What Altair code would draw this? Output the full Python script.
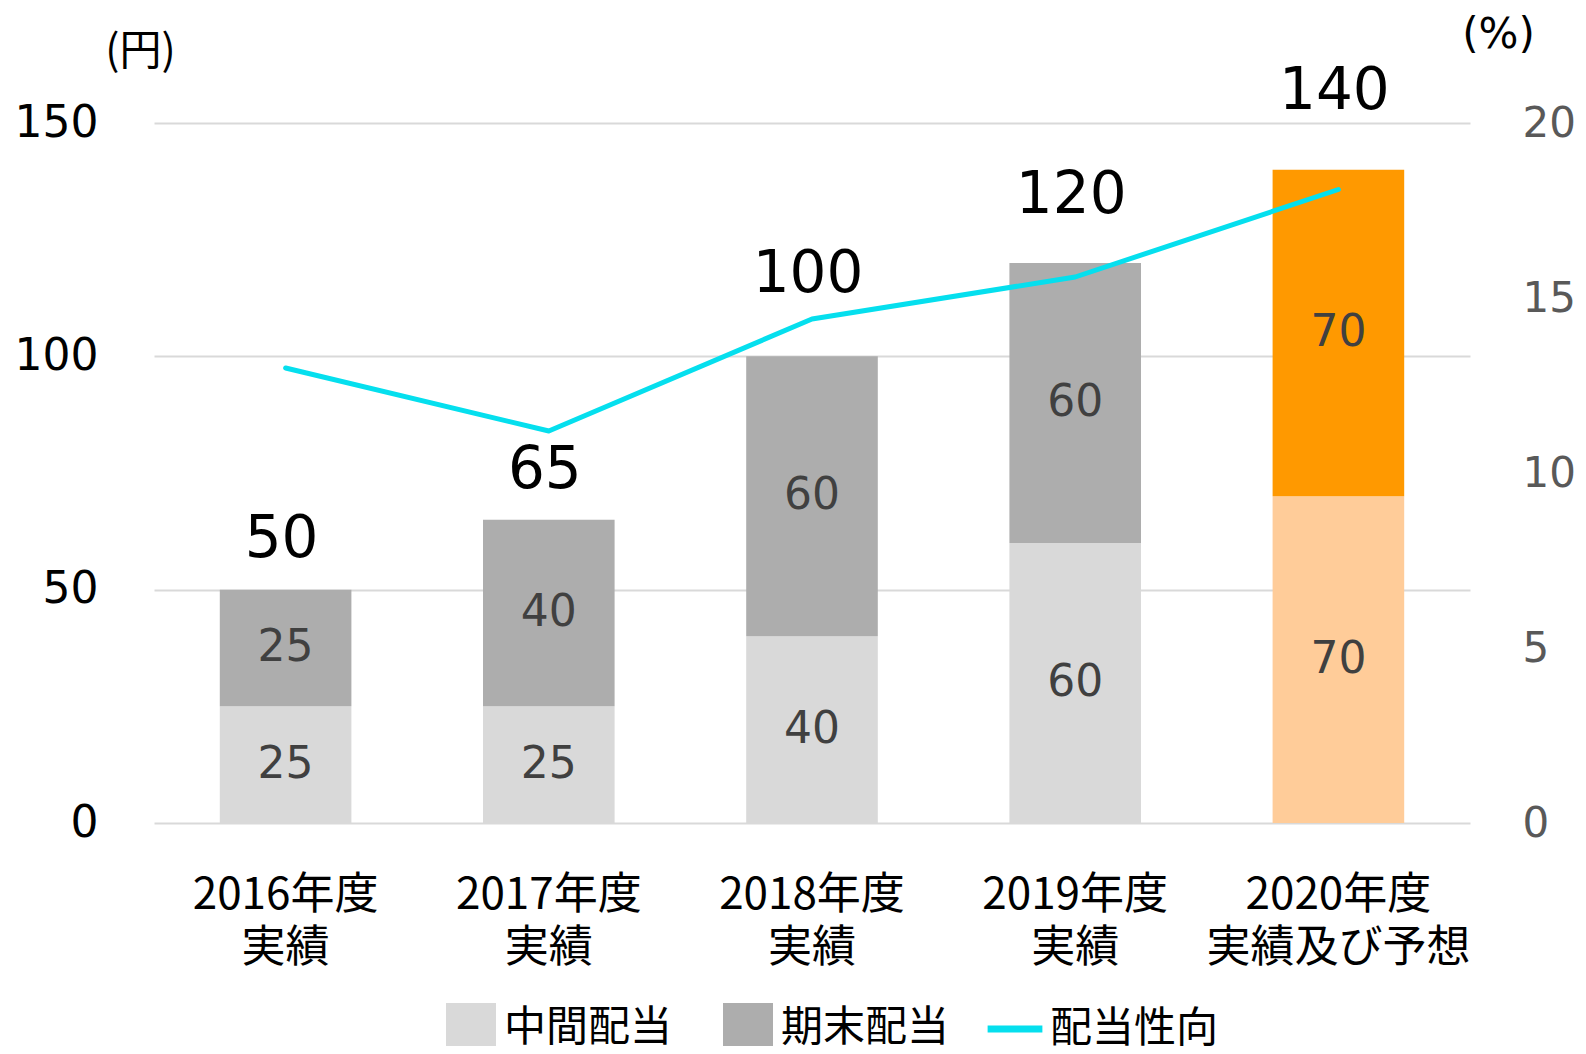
import altair as alt
import pandas as pd

categories = ["2016年度|実績", "2017年度|実績", "2018年度|実績", "2019年度|実績", "2020年度|実績及び予想"]
interim = [25, 25, 40, 60, 70]        # 中間配当
year_end = [25, 40, 60, 60, 70]       # 期末配当
payout = [13.0, 11.2, 14.4, 15.6, 18.1]  # 配当性向 (%)
forecast = [False, False, False, False, True]

seg_names = ["中間配当", "期末配当"]
color_keys = ["中間配当", "期末配当", "中間配当 ", "期末配当 "]
color_range = ["#D9D9D9", "#ADADAD", "#FFCC99", "#FF9900"]

rows = []
for c, a, b, f in zip(categories, interim, year_end, forecast):
    rows.append(dict(cat=c, key=seg_names[0] + (" " if f else ""), lo=0, hi=a, val=a))
    rows.append(dict(cat=c, key=seg_names[1] + (" " if f else ""), lo=a, hi=a + b, val=b))
seg = pd.DataFrame(rows)
seg["mid"] = (seg["lo"] + seg["hi"]) / 2

tot = pd.DataFrame(dict(cat=categories, total=[a + b for a, b in zip(interim, year_end)]))
line_df = pd.DataFrame(dict(cat=categories, payout=payout, series="配当性向"))

NUM = "DejaVu Sans"
CJK = "Noto Sans CJK JP"

x = alt.X("cat:N", sort=categories,
          scale=alt.Scale(paddingInner=0.5, paddingOuter=0.25),
          axis=alt.Axis(title=None, labelAngle=0, domain=False, ticks=False,
                        labelExpr="split(datum.value, '|')", labelFont=CJK,
                        labelFontSize=44, labelLineHeight=53, labelPadding=50,
                        labelColor="#000000", labelBaseline="top", labelLimit=0,
                        labelOverlap=False))

yL = alt.Scale(domain=[0, 150], nice=False)

bars = alt.Chart(seg).mark_bar().encode(
    x=x,
    y=alt.Y("lo:Q", scale=yL,
            axis=alt.Axis(values=[0, 50, 100, 150], title="(円)", titleAngle=0,
                          titleX=-14, titleY=-72, titleAlign="center", titleBaseline="middle",
                          titleFont=CJK, titleFontSize=42, titleFontWeight="normal",
                          titleColor="#000000",
                          labelFont=NUM, labelFontSize=44, labelColor="#000000",
                          labelPadding=56, ticks=False, domain=False,
                          grid=True, gridColor="#D9D9D9", gridWidth=2)),
    y2="hi:Q",
    color=alt.Color("key:N", scale=alt.Scale(domain=color_keys, range=color_range),
                    legend=alt.Legend(values=seg_names, title=None, orient="none",
                                      legendX=292, legendY=880, direction="horizontal",
                                      symbolType="square", symbolSize=2500,
                                      symbolStrokeWidth=0, labelFont=CJK,
                                      labelFontSize=42, labelOffset=8, labelLimit=0,
                                      columnPadding=50, labelColor="#000000")),
)

seg_text = alt.Chart(seg).mark_text(font=NUM, fontSize=44, color="#404040",
                                    baseline="middle").encode(
    x=alt.X("cat:N", sort=categories),
    y=alt.Y("mid:Q", scale=yL),
    text="val:Q",
)

label_gaps = [33, 32, 64, 50, 61]
tot_layers = []
for c, g in zip(categories, label_gaps):
    tot_layers.append(
        alt.Chart(tot).transform_filter(alt.datum.cat == c)
        .mark_text(font=NUM, fontSize=58, color="#000000", baseline="alphabetic", dy=-g, dx=-4)
        .encode(x=alt.X("cat:N", sort=categories), y=alt.Y("total:Q", scale=yL), text="total:Q")
    )

left = alt.layer(bars, seg_text, *tot_layers)

line = alt.Chart(line_df).mark_line(strokeWidth=5, strokeCap="round", strokeJoin="round").encode(
    x=alt.X("cat:N", sort=categories),
    y=alt.Y("payout:Q", scale=alt.Scale(domain=[0, 20], nice=False),
            axis=alt.Axis(orient="right", values=[0, 5, 10, 15, 20], title="(%)",
                          titleAngle=0, titleX=28, titleY=-89, titleAlign="center",
                          titleBaseline="middle", titleFont=NUM, titleFontSize=42,
                          titleFontWeight="normal", titleColor="#000000",
                          labelFont=NUM, labelFontSize=42, labelColor="#595959",
                          labelPadding=52, ticks=False, domain=False, grid=False)),
    stroke=alt.Stroke("series:N", scale=alt.Scale(range=["#05DFEE"]),
                      legend=alt.Legend(title=None, orient="none", legendX=830, legendY=875,
                                        direction="horizontal", symbolType="stroke",
                                        symbolSize=3000, symbolStrokeWidth=7,
                                        labelFont=CJK, labelFontSize=42, labelOffset=4,
                                        labelLimit=0, labelColor="#000000")),
)

chart = alt.layer(left, line).resolve_scale(y="independent").properties(
    width=1316, height=700,
    background="white",
    autosize=alt.AutoSizeParams(type="none"),
    padding={"left": 146, "top": 115, "right": 108, "bottom": 223},
).configure_view(stroke=None)

chart.save("out.html", embed_options={"renderer": "svg", "actions": False})
